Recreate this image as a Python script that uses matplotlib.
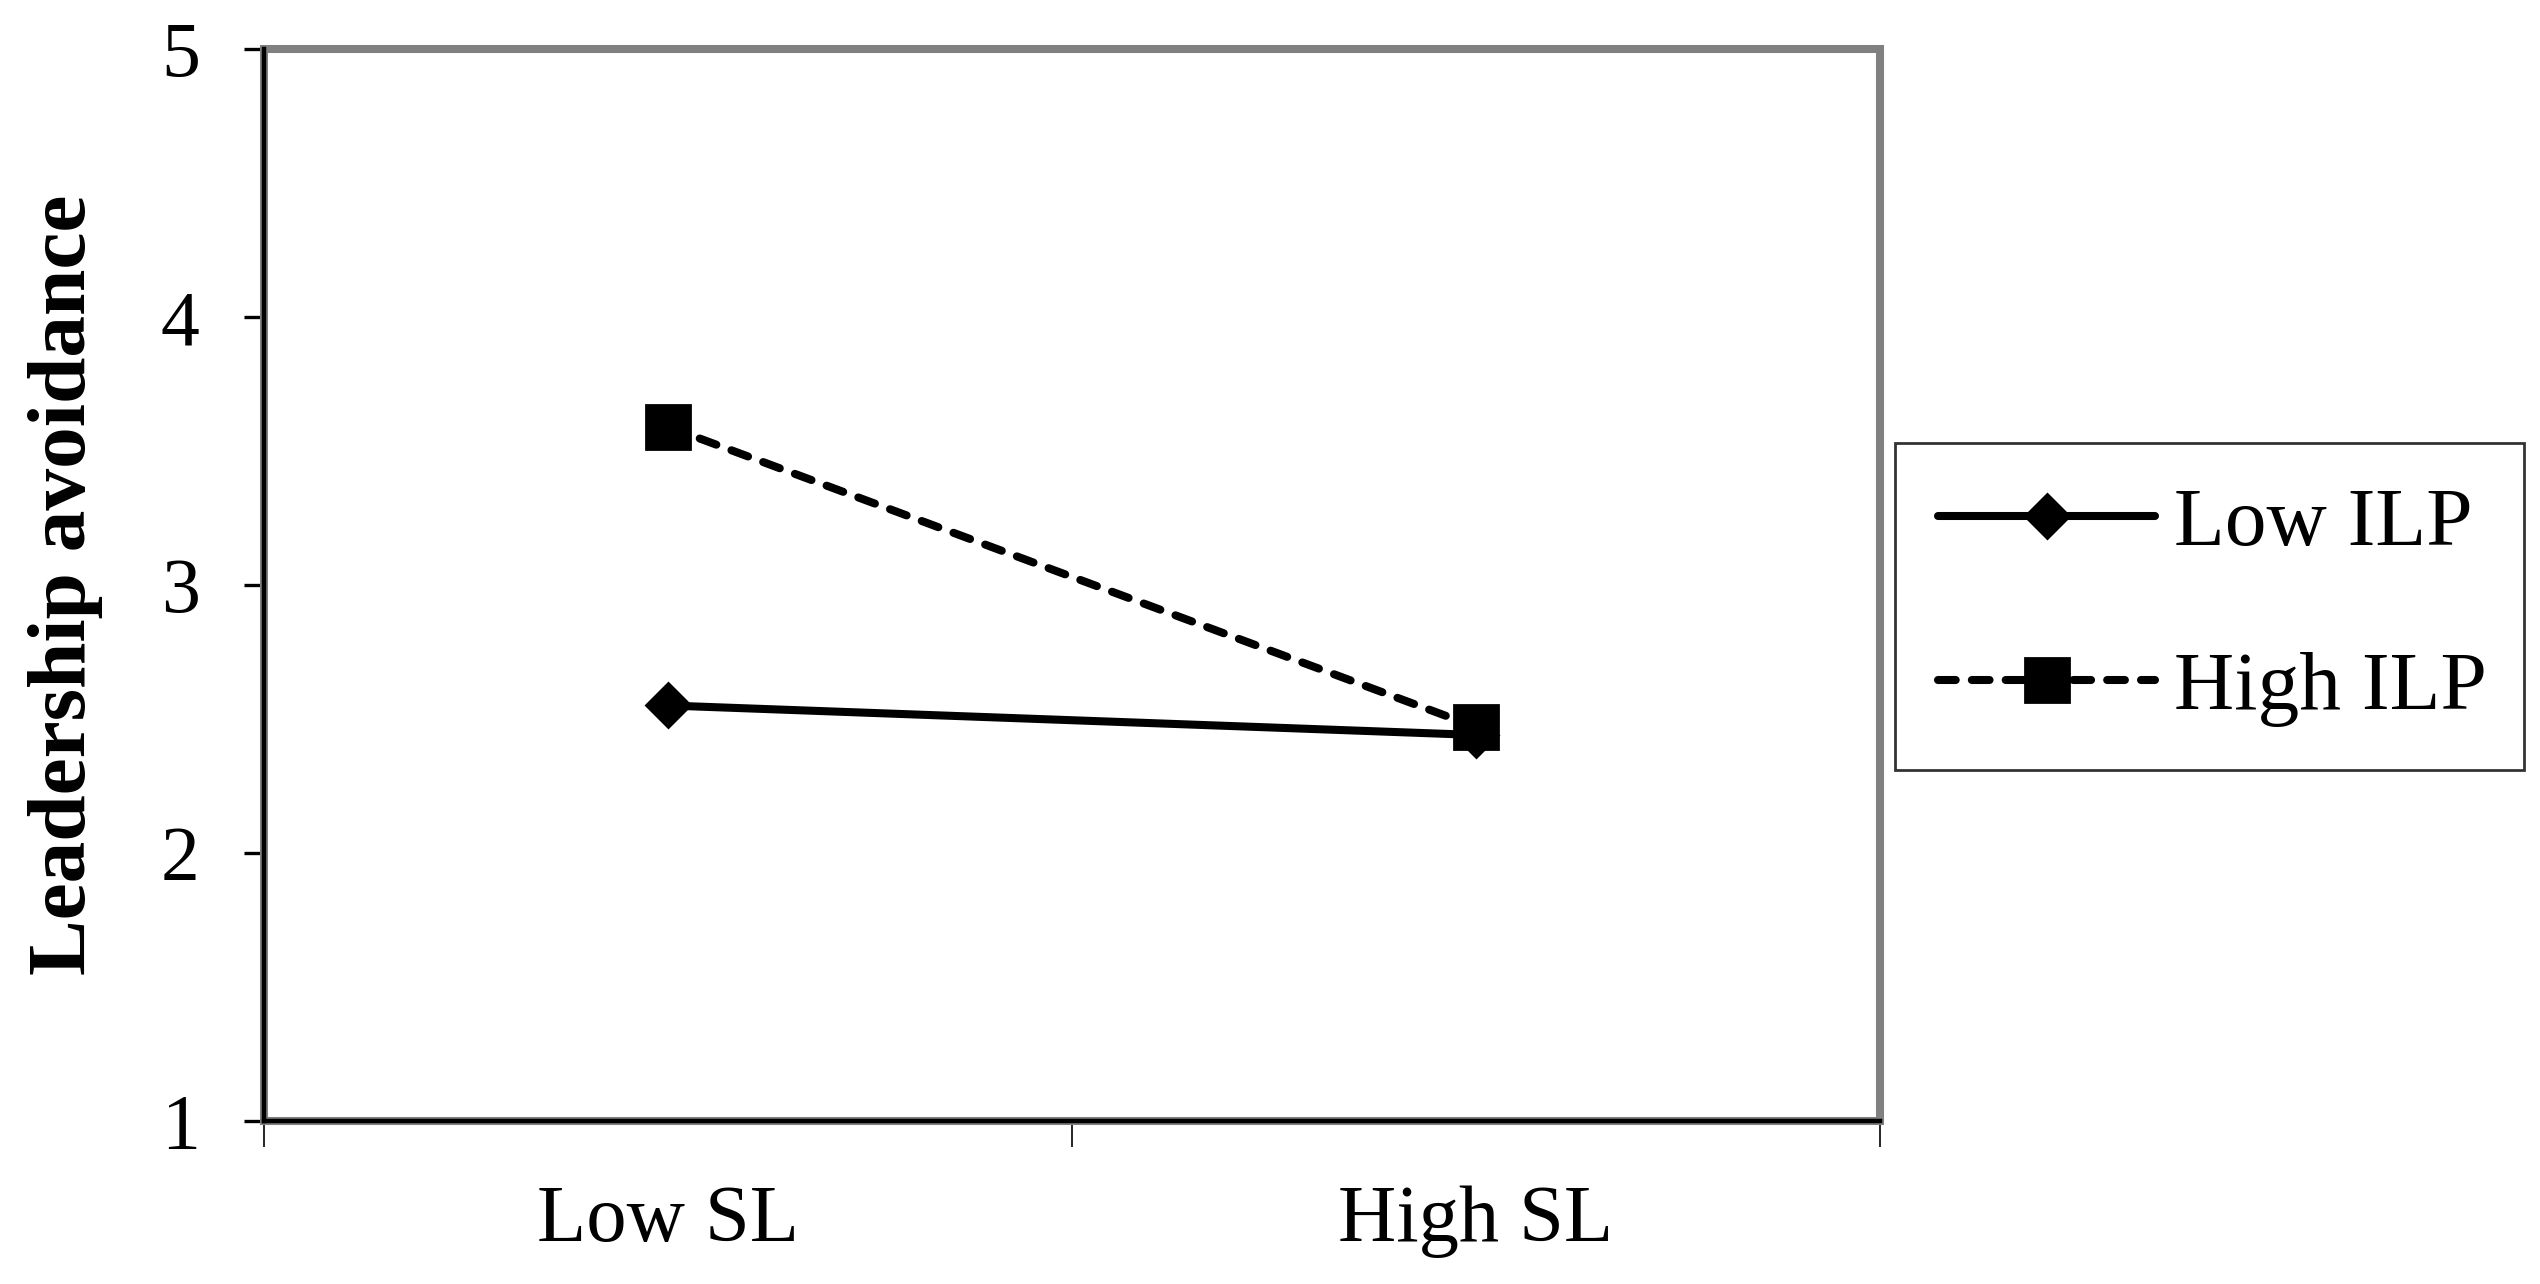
import matplotlib
matplotlib.use("Agg")
import matplotlib.pyplot as plt
from matplotlib.patches import Rectangle

# DATA
conditions = ["Low SL", "High SL"]
low_ilp = [2.55, 2.44]
high_ilp = [3.59, 2.47]
y_ticks = [1, 2, 3, 4, 5]

plt.rcParams["font.family"] = "Liberation Serif"

fig = plt.figure(figsize=(12.7, 6.42), dpi=200)
ax = fig.add_axes([0.104, 0.127, 0.636, 0.835])

x = [0.5, 1.5]

ax.plot(x, low_ilp, color="black", linewidth=2.9, marker="D", markersize=11,
        label="Low ILP", solid_capstyle="round", zorder=3)
ax.plot(x, high_ilp, color="black", linewidth=2.9, linestyle=(0, (2.2, 2.0)),
        marker="s", markersize=16, label="High ILP", dash_capstyle="round", zorder=4)

ax.set_xlim(0, 2)
ax.set_ylim(1, 5)
ax.set_yticks(y_ticks)
ax.set_xticks([0, 1, 2])
ax.set_xticklabels([])
ax.set_xticks(x, minor=True)
ax.set_xticklabels(conditions, minor=True, fontsize=29)
ax.tick_params(axis="x", which="minor", length=0, pad=23)
ax.tick_params(axis="x", which="major", length=9.4, width=0.6, direction="out")
ax.tick_params(axis="y", length=7.2, width=1.2, direction="out", labelsize=28, pad=16)

# gray plot-area frame, black axis lines on top
frame = Rectangle((0, 0), 1, 1, transform=ax.transAxes, fill=False,
                  edgecolor="#808080", linewidth=2.9, clip_on=False, zorder=2)
ax.add_patch(frame)
for side in ["top", "right"]:
    ax.spines[side].set_visible(False)
for side in ["left", "bottom"]:
    ax.spines[side].set_color("black")
    ax.spines[side].set_linewidth(1.6)
    ax.spines[side].set_zorder(2.6)

ax.set_ylabel("Leadership avoidance", fontsize=30, fontweight="bold", labelpad=21)

leg = fig.legend(loc="center", bbox_to_anchor=(0.746, 0.398, 0.2477, 0.259),
                 mode="expand", fontsize=30, frameon=True, fancybox=False,
                 edgecolor="black", handlelength=2.6, borderpad=0.52,
                 labelspacing=1.05, handletextpad=0.23, borderaxespad=0)
leg.get_frame().set_linewidth(1.0)

fig.savefig("out.png", dpi=200, facecolor="white")
